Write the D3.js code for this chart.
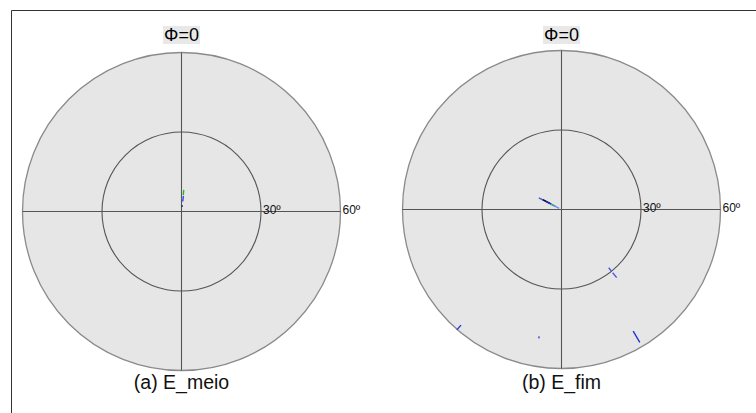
<!DOCTYPE html>
<html><head><meta charset="utf-8">
<script src="https://cdn.jsdelivr.net/npm/d3@7"></script>
<style>body{margin:0;background:#fff}svg{display:block}</style>
</head><body>
<svg id="chart" width="756" height="413"></svg>
<script>
// panels
const panelTitles = ["Φ=0", "Φ=0"];
const panelCaptions = ["(a) E_meio", "(b) E_fim"];
const ringTicks = [30, 60];           // theta (degrees) rings
const ringLabels = ["30º", "60º"];
// marks: [phiStart, thetaStart, phiEnd, thetaEnd, colour] — phi clockwise from top, theta radial degrees
const marksA = [
  [6, 6.2, 6, 8.2, "#22bb22"],
  [7, 3.8, 7, 5.9, "#4444ee"],
  [6, 1.7, 6, 2.4, "#222266"]
];
const marksB = [
  [-63, 9.6, -63, 5.0, "#4455dd"],
  [-62, 8.0, -62, 4.5, "#111111"],
  [-63, 6.5, -63, 3.0, "#2233cc"],
  [-63, 4.5, -63, 2.5, "#33bb88"],
  [-63, 3.0, -63, 1.0, "#7788ee"],
  [141, 28.3, 141, 30.0, "#5555ee"],
  [141, 30.7, 141, 33.1, "#5555ee"],
  [221, 57.8, 221, 60.2, "#2233dd"],
  [190, 48.6, 190, 49.4, "#3344cc"],
  [149.5, 53.3, 149.5, 58.2, "#2233dd"]
];
const panelMarks = [marksA, marksB];

const svg = d3.select("#chart");
// frame
svg.append("line").attr("x1",11.5).attr("y1",10.5).attr("x2",756).attr("y2",10.5).attr("stroke","#333").attr("stroke-width",1);
svg.append("line").attr("x1",11.5).attr("y1",10.5).attr("x2",11.5).attr("y2",413).attr("stroke","#333").attr("stroke-width",1);

const centers = [[181.5, 211.5], [561.5, 209.5]];
const R = 159;
const rScale = d3.scaleLinear().domain([0, 60]).range([0, R]);

centers.forEach((c, i) => {
  const g = svg.append("g").attr("transform", `translate(${c[0]},${c[1]})`);
  g.append("circle").attr("r", rScale(60)).attr("fill", "#e6e6e6").attr("stroke", "#8a8a8a").attr("stroke-width", 1.3);
  g.append("circle").attr("r", rScale(30)).attr("fill", "none").attr("stroke", "#555").attr("stroke-width", 1.1);
  g.append("line").attr("x1", -rScale(60)).attr("x2", rScale(60)).attr("y1", 0).attr("y2", 0).attr("stroke", "#555").attr("stroke-width", 1.1);
  g.append("line").attr("y1", -rScale(60)).attr("y2", rScale(60)).attr("x1", 0).attr("x2", 0).attr("stroke", "#555").attr("stroke-width", 1.1);
  ringTicks.forEach((t, k) => {
    g.append("text").attr("x", rScale(t) + 2).attr("y", 2)
      .attr("font-family", "Liberation Sans, Arial, sans-serif").attr("font-size", 12).attr("fill", "#111")
      .text(ringLabels[k]);
  });
  // marks
  const pt = (phi, th) => {
    const a = phi * Math.PI / 180;
    return [rScale(th) * Math.sin(a), -rScale(th) * Math.cos(a)];
  };
  panelMarks[i].forEach(m => {
    const p1 = pt(m[0], m[1]), p2 = pt(m[2], m[3]);
    g.append("line").attr("x1", p1[0]).attr("y1", p1[1]).attr("x2", p2[0]).attr("y2", p2[1])
      .attr("stroke", m[4]).attr("stroke-width", 1.4);
  });
  // title
  const tg = svg.append("g");
  const tt = tg.append("text").attr("x", c[0]).attr("y", 41).attr("text-anchor", "middle")
    .attr("font-family", "Liberation Sans, Arial, sans-serif").attr("font-size", 18).attr("fill", "#000")
    .text(panelTitles[i]);
  const bb = tt.node().getBBox();
  tg.insert("rect", "text").attr("x", bb.x - 1).attr("y", bb.y + 1).attr("width", bb.width + 2).attr("height", bb.height - 2).attr("fill", "#e8e8e8");
  // caption
  svg.append("text").attr("x", c[0]).attr("y", 389).attr("text-anchor", "middle")
    .attr("font-family", "Liberation Sans, Arial, sans-serif").attr("font-size", 19.5).attr("fill", "#111")
    .text(panelCaptions[i]);
});
</script>
</body></html>
